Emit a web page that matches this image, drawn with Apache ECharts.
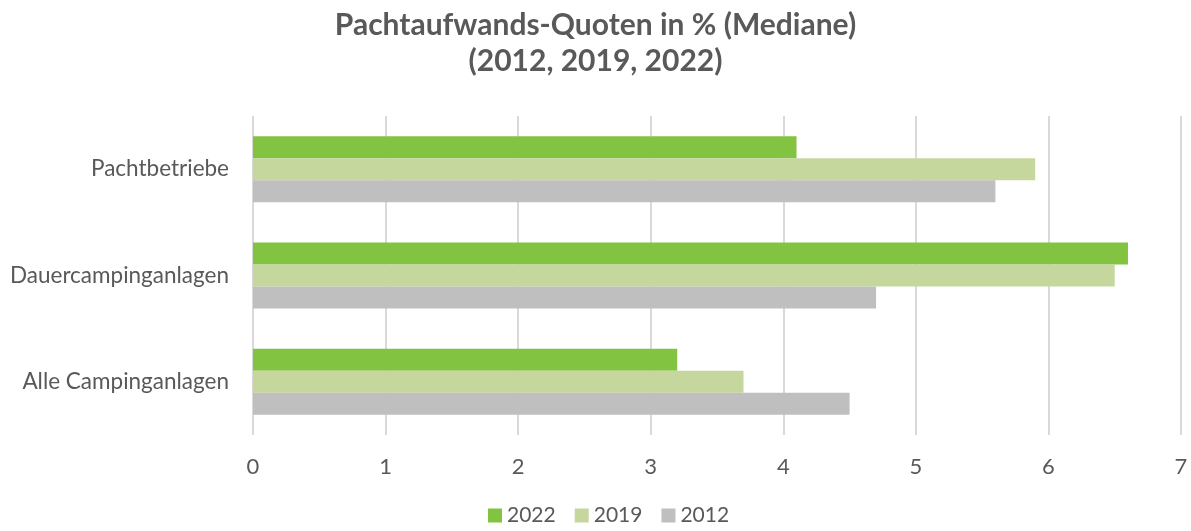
<!DOCTYPE html>
<html lang="de">
<head>
    <meta charset="UTF-8">
    <title>Pachtaufwands-Quoten</title>
    <style>
        body { margin: 0; padding: 0; background: #ffffff; }
        #chart { width: 1191px; height: 531px; }
    </style>
    <script src="https://cdn.jsdelivr.net/npm/echarts@6/dist/echarts.min.js"></script>
</head>
<body>
    <div id="chart"></div>
    <script>
        // categories, bottom to top as in the picture
        const categories = ['Alle Campinganlagen', 'Dauercampinganlagen', 'Pachtbetriebe'];
        const years = ['2022', '2019', '2012'];
        const values2022 = [3.2, 6.6, 4.1];
        const values2019 = [3.7, 6.5, 5.9];
        const values2012 = [4.5, 4.7, 5.6];
        const xTicks = [0, 1, 2, 3, 4, 5, 6, 7];

        const colors = { '2022': '#82c341', '2019': '#c5d79d', '2012': '#bfbfbf' };
        const font = 'Lato, Open Sans, sans-serif';

        const chart = echarts.init(document.getElementById('chart'));

        function makeSeries(name, data) {
            return {
                name: name,
                type: 'bar',
                data: data,
                barGap: '0%',
                barCategoryGap: '38%',
                itemStyle: { color: colors[name] },
                animation: false
            };
        }

        chart.setOption({
            title: {
                text: 'Pachtaufwands-Quoten in % (Mediane)\n(2012, 2019, 2022)',
                left: 'center',
                top: 2,
                padding: [5, 0, 5, 12],
                textStyle: {
                    fontFamily: font,
                    fontSize: 30,
                    fontWeight: 'bold',
                    color: '#595959',
                    lineHeight: 36
                }
            },
            legend: {
                data: years,
                bottom: 0,
                left: 483,
                itemWidth: 14,
                itemHeight: 14,
                itemGap: 19,
                icon: 'rect',
                textStyle: { fontFamily: font, fontSize: 21, color: '#595959' }
            },
            grid: { left: 253, right: 10, top: 116, bottom: 96 },
            xAxis: {
                type: 'value',
                min: xTicks[0],
                max: xTicks[xTicks.length - 1],
                interval: 1,
                axisLine: { show: false },
                axisTick: { show: false },
                axisLabel: { fontFamily: font, fontSize: 22, color: '#595959', margin: 21 },
                splitLine: { lineStyle: { color: '#d9d9d9', width: 2 } }
            },
            yAxis: {
                type: 'category',
                data: categories,
                axisLine: { show: false },
                axisTick: { show: false },
                axisLabel: { fontFamily: font, fontSize: 22.5, color: '#595959', margin: 24 }
            },
            series: [
                makeSeries('2022', values2022),
                makeSeries('2019', values2019),
                makeSeries('2012', values2012)
            ]
        });
    </script>
</body>
</html>
